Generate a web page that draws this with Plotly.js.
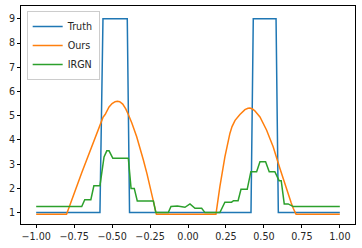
<!DOCTYPE html>
<html>
<head>
<meta charset="utf-8">
<script src="https://cdn.plot.ly/plotly-3.0.1.min.js"></script>
<style>html,body{margin:0;padding:0;background:#fff;}#chart{width:362px;height:248px;}</style>
</head>
<body>
<div id="chart"></div>
<script>
// Truth
var truthX = [-1, -0.58, -0.56, -0.40, -0.385, 0.415, 0.43, 0.58, 0.595, 1];
var truthY = [1, 1, 9, 9, 1, 1, 9, 9, 1, 1];

// Ours
var oursX = [-1, -0.80, -0.70, -0.58, -0.56, -0.546, -0.52, -0.50, -0.48, -0.465, -0.45, -0.43, -0.41, -0.393, -0.37, -0.338, -0.31, -0.294, -0.27, -0.25, -0.23, -0.217, -0.208,
             0.184, 0.19, 0.21, 0.243, 0.26, 0.276, 0.29, 0.31, 0.342, 0.375, 0.395, 0.408, 0.425, 0.44, 0.474, 0.50, 0.518, 0.54, 0.561, 0.605, 0.649, 0.68, 0.693, 0.712, 1];
var oursY = [0.93, 0.93, 2.65, 4.68, 4.93, 5.05, 5.36, 5.5, 5.58, 5.6, 5.58, 5.48, 5.28, 5.05, 4.7, 4.13, 3.55, 3.17, 2.6, 2.07, 1.5, 1.1, 0.93,
             0.93, 1.2, 2.07, 3.3, 3.85, 4.27, 4.55, 4.81, 5.05, 5.25, 5.31, 5.32, 5.28, 5.2, 4.95, 4.65, 4.4, 4.05, 3.72, 2.83, 1.93, 1.4, 1.18, 0.93, 0.93];

// IRGN
var irgnX = [-1, -0.70, -0.68, -0.64, -0.62, -0.58, -0.553, -0.535, -0.52, -0.495, -0.393, -0.375, -0.354, -0.334, -0.228, -0.212, -0.13, -0.112,
             -0.07, -0.02, 0.013, 0.046, 0.09, 0.112, 0.21, 0.243, 0.287, 0.30, 0.33, 0.349, 0.39, 0.414, 0.452, 0.474, 0.511, 0.535, 0.572, 0.60, 0.614, 0.634, 0.66, 0.693, 1];
var irgnY = [1.25, 1.25, 1.53, 1.53, 2.11, 2.11, 3.3, 3.55, 3.55, 3.24, 3.24, 2.0, 2.0, 1.48, 1.48, 1.0, 1.0, 1.25,
             1.27, 1.22, 1.36, 1.18, 1.18, 1.0, 1.0, 1.43, 1.43, 1.49, 1.49, 1.96, 1.96, 2.69, 2.69, 3.1, 3.1, 2.69, 2.69, 2.32, 2.32, 1.36, 1.36, 1.25, 1.25];

var xTicks = [-1, -0.75, -0.5, -0.25, 0, 0.25, 0.5, 0.75, 1];
var yTicks = [1, 2, 3, 4, 5, 6, 7, 8, 9];

var traces = [
  {x: truthX, y: truthY, name: 'Truth', mode: 'lines', line: {color: '#1f77b4', width: 1.5}},
  {x: oursX, y: oursY, name: 'Ours', mode: 'lines', line: {color: '#ff7f0e', width: 1.5}},
  {x: irgnX, y: irgnY, name: 'IRGN', mode: 'lines', line: {color: '#2ca02c', width: 1.5}}
];

var font = {family: 'DejaVu Sans', size: 9.6, color: '#262626'};
var layout = {
  width: 362, height: 248,
  margin: {l: 21, r: 7, t: 6, b: 24, pad: 0},
  paper_bgcolor: '#fff', plot_bgcolor: '#fff',
  font: font,
  showlegend: true,
  legend: {x: 0.017, y: 0.977, xanchor: 'left', yanchor: 'top', bgcolor: 'rgba(255,255,255,0.8)',
           bordercolor: '#cccccc', borderwidth: 1, font: {family: 'DejaVu Sans', size: 9.6, color: '#262626'},
           itemwidth: 30, tracegroupgap: 0},
  xaxis: {range: [-1.1, 1.1], tickvals: xTicks, tickformat: '.2f', showgrid: false, zeroline: false,
          showline: true, mirror: true, linecolor: '#000', linewidth: 1, ticks: 'outside', ticklen: 3, tickcolor: '#000', tickfont: font},
  yaxis: {range: [0.53, 9.53], tickvals: yTicks, showgrid: false, zeroline: false,
          showline: true, mirror: true, linecolor: '#000', linewidth: 1, ticks: 'outside', ticklen: 3, tickcolor: '#000', tickfont: font}
};

Plotly.newPlot('chart', traces, layout, {staticPlot: true, displayModeBar: false});
</script>
</body>
</html>
